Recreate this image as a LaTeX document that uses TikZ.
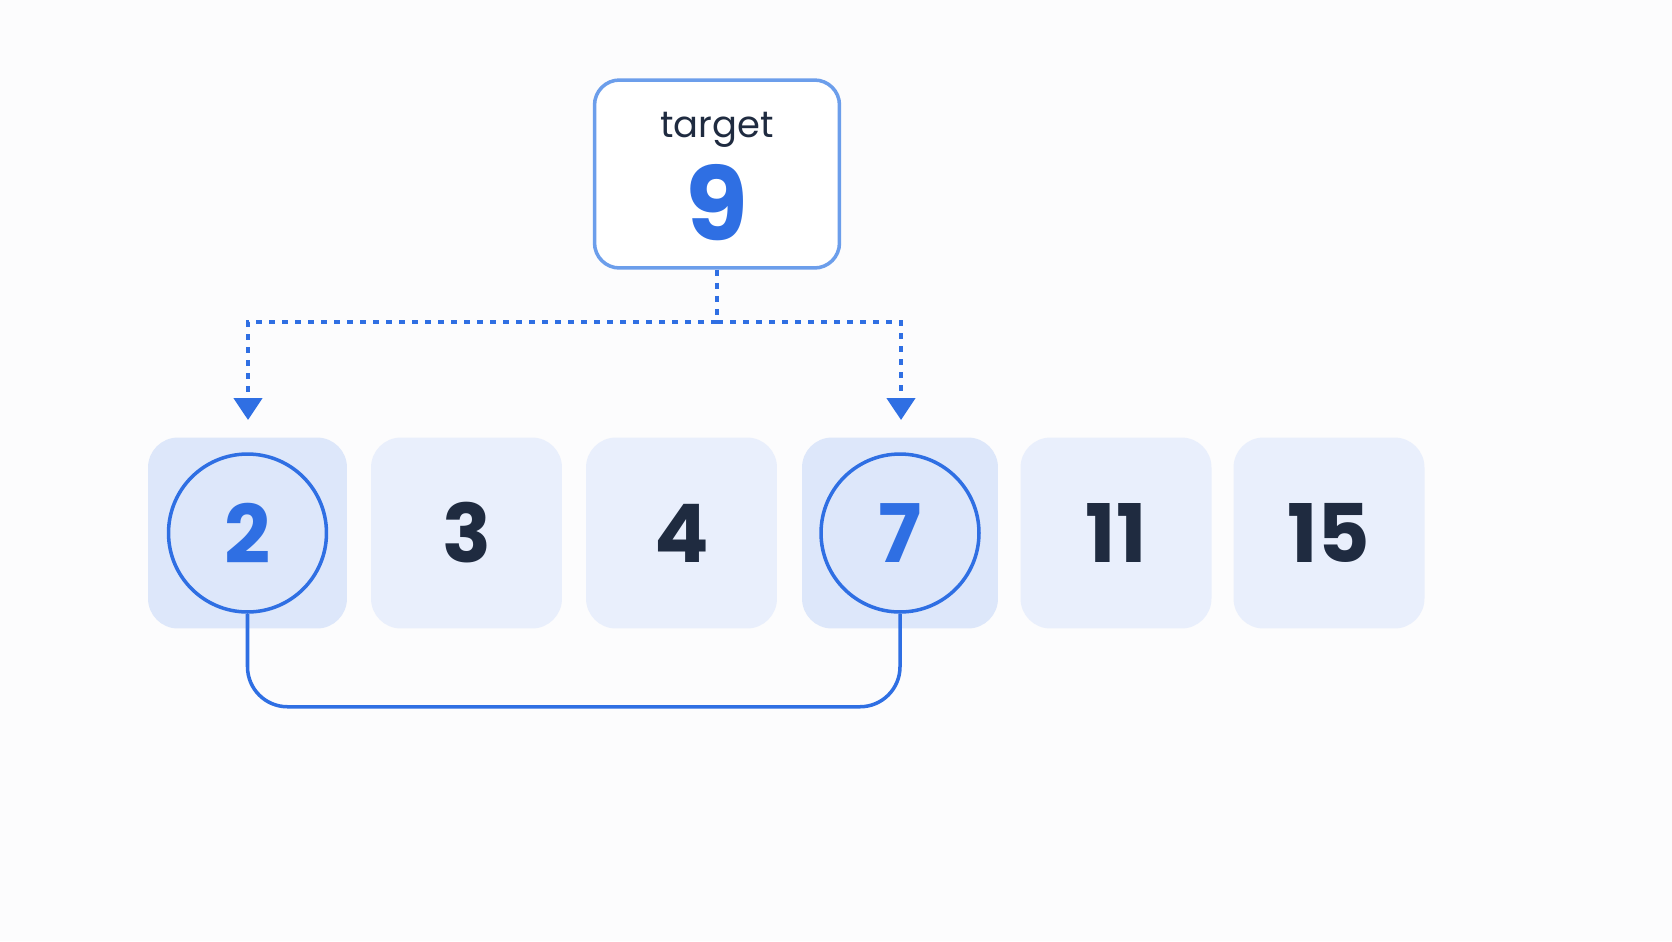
\documentclass[tikz,border=0pt]{standalone}
\usepackage{fontspec}
\setmainfont{Poppins}
\usetikzlibrary{arrows.meta,positioning}
\definecolor{accent}{HTML}{2F6FE3}
\definecolor{ink}{HTML}{1F2B40}
\definecolor{cellfill}{HTML}{E9EFFC}
\definecolor{cellhi}{HTML}{DDE7FA}
\definecolor{frame}{HTML}{6C9EEB}
\definecolor{paper}{HTML}{FCFCFD}
\begin{document}
\begin{tikzpicture}[x=0.02cm,y=-0.02cm,
  cell/.style={fill=cellfill,rounded corners=0.6cm,minimum width=3.82cm,minimum height=3.82cm,
    font=\fontsize{46}{50}\selectfont\bfseries},
  pick/.style={circle,draw=accent,line width=2pt,minimum size=3.16cm},
  dots/.style={accent,line width=2.6pt,dash pattern=on 3.4pt off 4pt},
  pair/.style={accent,line width=2pt,rounded corners=0.8cm}]
\fill[paper] (0,0) rectangle (1672,941);
\useasboundingbox (0,0) rectangle (1672,941);
% target
\node[draw=frame,line width=2pt,rounded corners=0.5cm,fill=white,
  minimum width=4.9cm,minimum height=3.76cm] (target) at (717,174) {};
\node[text=ink,font=\fontsize{21}{24}\selectfont] (lbl) at (717,130) {target};
\node[text=accent,font=\fontsize{58}{60}\selectfont\bfseries] (val) at (717,203) {9};
% array
\foreach \x/\v/\w/\f/\t [count=\i] in {247.5/2/3.98/cellhi/accent,466.5/3/3.82/cellfill/ink,
    681.5/4/3.82/cellfill/ink,900/7/3.92/cellhi/accent,1116/11/3.82/cellfill/ink,1329/15/3.82/cellfill/ink}
  \node[cell,fill=\f,text=\t,minimum width=\w cm] (n\i) at (\x,533) {\v};
\node[pick] (c2) at (n1) {};
\node[pick] (c7) at (n4) {};
% lookup
\coordinate (split) at (717,322);
\coordinate (tipL) at (248,420);
\coordinate (tipR) at (901,420);
\draw[dots] (target.south) -- (split);
\draw[dots,-{Triangle[width=0.56cm,length=0.44cm]}] (split) -| (tipL);
\draw[dots,-{Triangle[width=0.56cm,length=0.44cm]}] (split) -| (tipR);
% pair
\draw[pair] (c2.south) -- ++(0,93) -| (c7.south);
\end{tikzpicture}
\end{document}
